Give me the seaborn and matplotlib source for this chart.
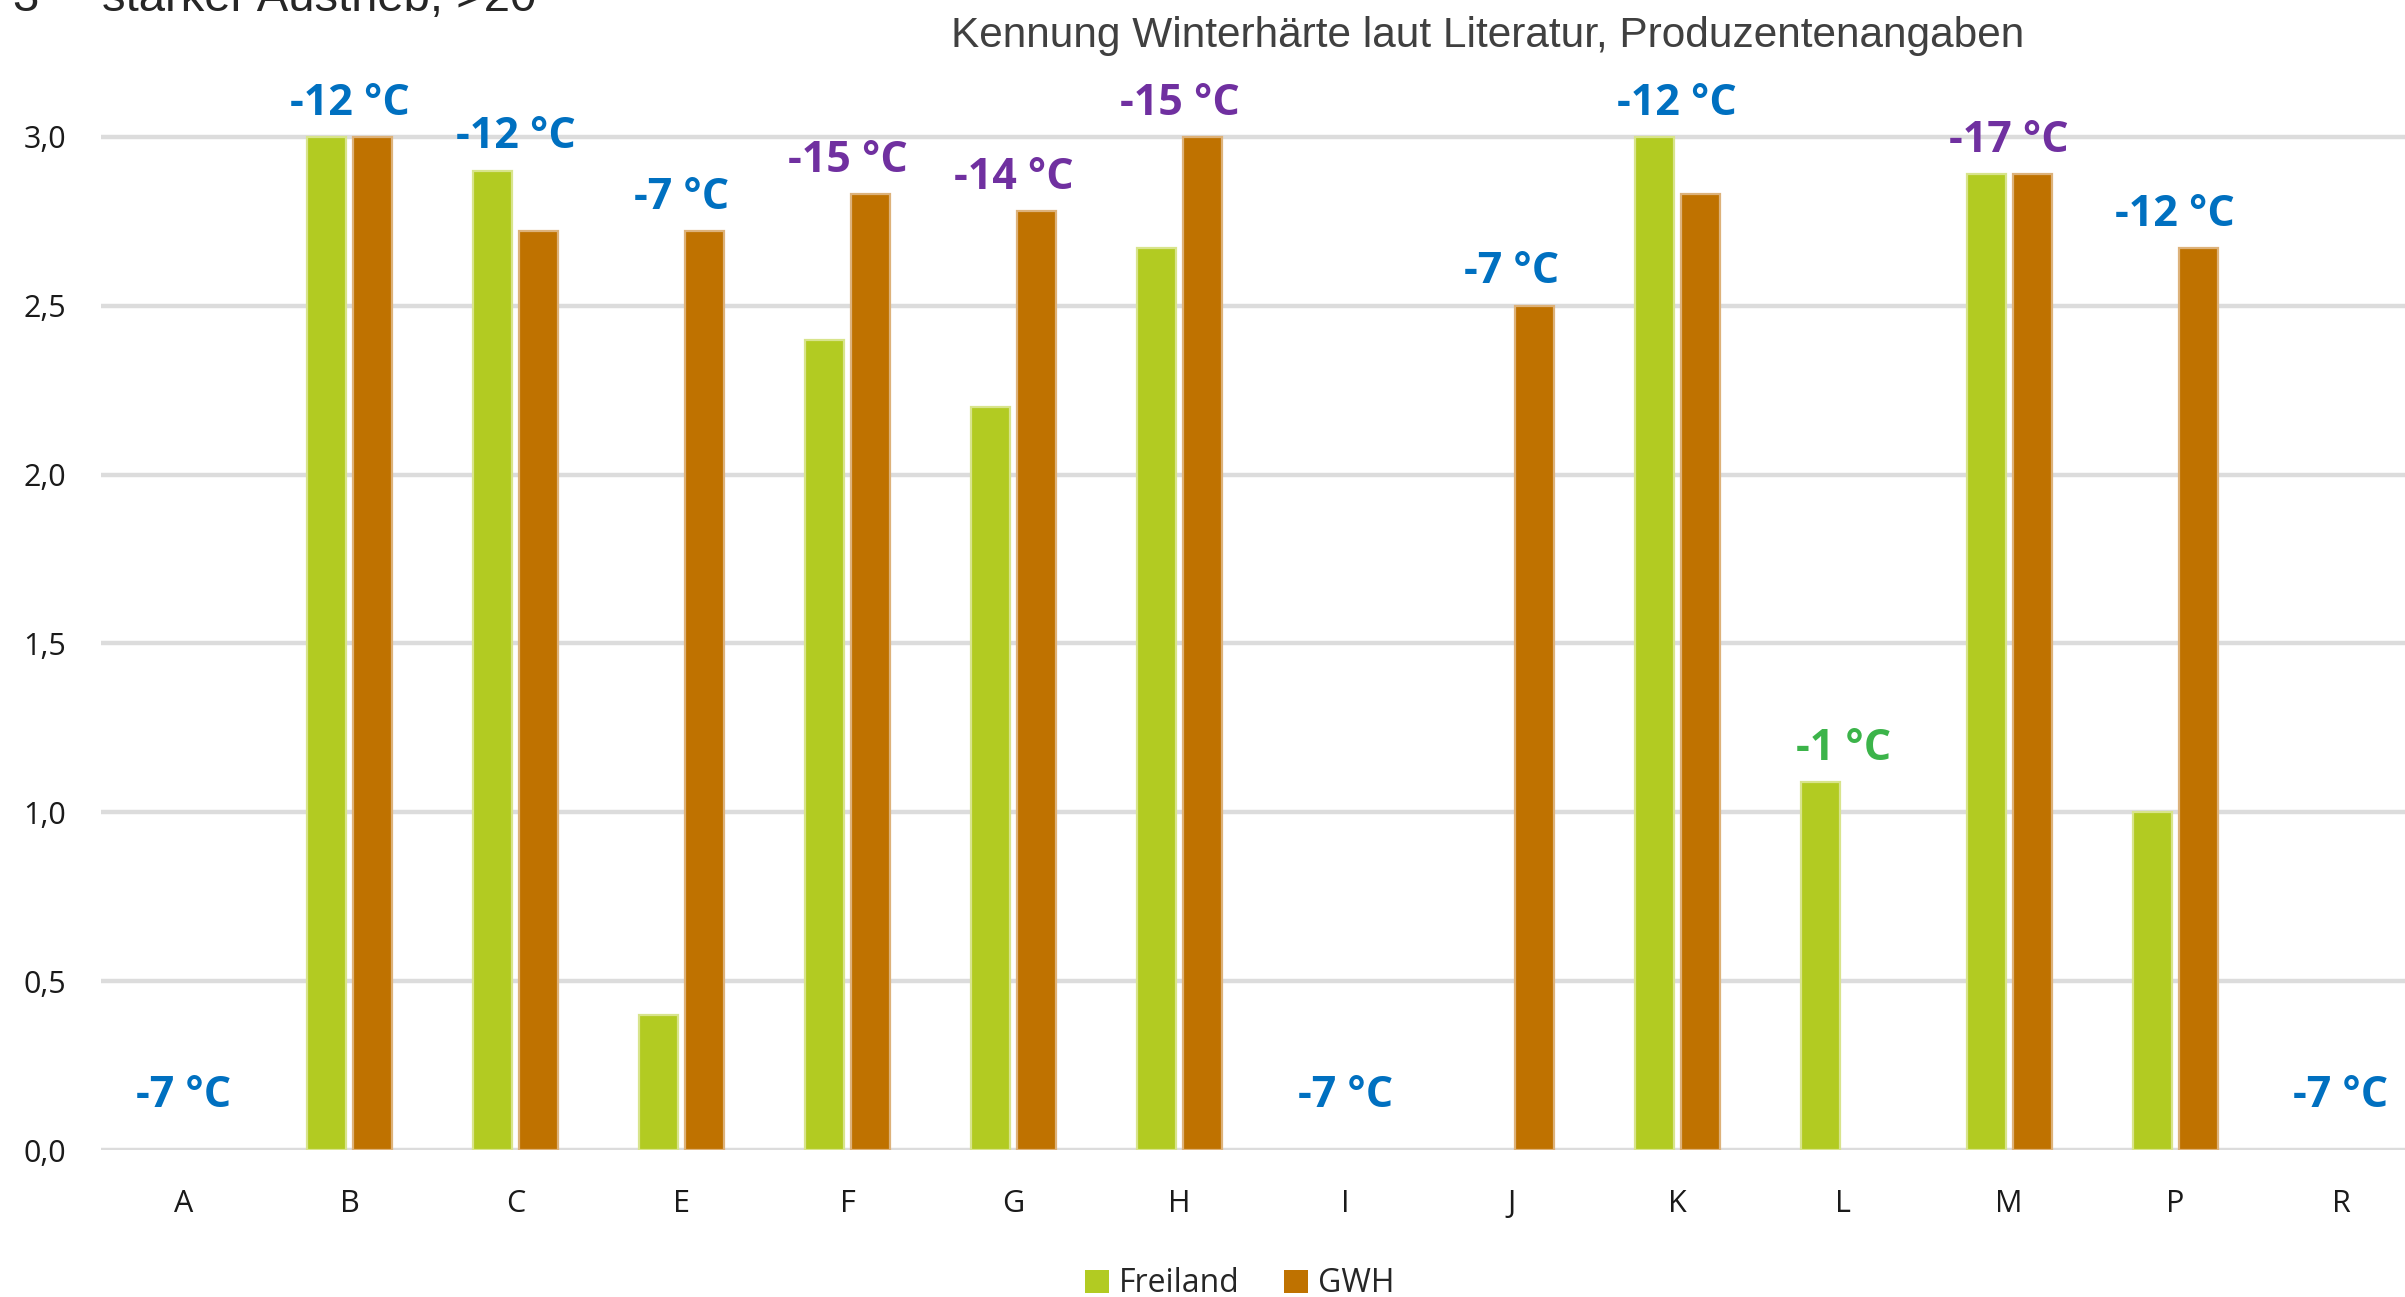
import matplotlib
matplotlib.use("Agg")
import matplotlib.pyplot as plt
import numpy as np
import pandas as pd
import seaborn as sns
from matplotlib.patches import Patch

# data
categories = ["A", "B", "C", "E", "F", "G", "H", "I", "J", "K", "L", "M", "P", "R"]
freiland = [np.nan, 3.0, 2.9, 0.4, 2.4, 2.2, 2.67, np.nan, np.nan, 3.0, 1.09, 2.89, 1.0, np.nan]
gwh = [np.nan, 3.0, 2.72, 2.72, 2.83, 2.78, 3.0, np.nan, 2.5, 2.83, np.nan, 2.89, 2.67, np.nan]
temp_labels = ["-7 °C", "-12 °C", "-12 °C", "-7 °C", "-15 °C", "-14 °C", "-15 °C",
               "-7 °C", "-7 °C", "-12 °C", "-1 °C", "-17 °C", "-12 °C", "-7 °C"]
yticks = [0.0, 0.5, 1.0, 1.5, 2.0, 2.5, 3.0]
ytick_labels = ["0,0", "0,5", "1,0", "1,5", "2,0", "2,5", "3,0"]
series = ["Freiland", "GWH"]

title = "Kennung Winterhärte laut Literatur, Produzentenangaben"
top_note = "starker Austrieb, >20"

GREEN, ORANGE = "#B2CB22", "#BF7200"
EDGE = {"Freiland": "#D8E48C", "GWH": "#DDB27A"}
BLUE, PURPLE, LGREEN = "#0070C0", "#7030A0", "#3CB44A"


def temp_color(lbl):
    t = int(lbl.split()[0])
    if t <= -14:
        return PURPLE
    if t >= -1:
        return LGREEN
    return BLUE


df = pd.DataFrame({
    "Sorte": categories * 2,
    "Wert": freiland + gwh,
    "Ort": ["Freiland"] * len(categories) + ["GWH"] * len(categories),
})

sns.set_theme(style="white")
plt.rcParams["font.family"] = ["Open Sans", "DejaVu Sans"]

W, H = 2405, 1297
fig = plt.figure(figsize=(W / 100, H / 100), dpi=100)
ymax = 3.4
ax = fig.add_axes([101 / W, 147 / H, (2424 - 101) / W, ymax * 337.7 / H])

sns.barplot(data=df, x="Sorte", y="Wert", hue="Ort", order=categories,
            hue_order=series, palette=[GREEN, ORANGE], width=0.554, gap=0.15,
            saturation=1, errorbar=None, legend=False, ax=ax, zorder=3)
for cont, name in zip(ax.containers, series):
    for p in cont:
        p.set_edgecolor(EDGE[name])
        p.set_linewidth(1.6)

ax.set_ylim(0, ymax)
ax.set_xlim(-0.5, len(categories) - 0.5)
ax.set_yticks(yticks)
ax.set_yticklabels(ytick_labels)
ax.set_xlabel("")
ax.set_ylabel("")
ax.tick_params(axis="y", length=0, pad=25, labelsize=22, labelcolor="#1a1a1a")
ax.tick_params(axis="x", length=0, pad=28, labelsize=22, labelcolor="#1a1a1a")
for s in ax.spines.values():
    s.set_visible(False)
for y in yticks:
    ax.axhline(y, color="#DCDCDC", lw=3.2, zorder=1)

# temperature labels above each group
for i, lbl in enumerate(temp_labels):
    vals = [v for v in (freiland[i], gwh[i]) if not np.isnan(v)]
    y = max(vals) + 0.1 if vals else 0.16
    ax.text(i, y, lbl, ha="center", va="center", fontsize=31, fontweight="bold",
            color=temp_color(lbl), clip_on=False, zorder=5)

fig.text(1488 / W, 1 - 47 / H, title, ha="center", va="baseline",
         family="Liberation Sans", fontsize=30.5, color="#404040")
# note at the top left, cut by the upper edge as in the source
fig.text(12 / W, 1 - 11 / H, "3", ha="left", va="baseline",
         family="Liberation Sans", fontsize=34, color="#262626")
fig.text(102 / W, 1 - 11 / H, top_note, ha="left", va="baseline",
         family="Liberation Sans", fontsize=34, color="#262626")

handles = [Patch(facecolor=GREEN, edgecolor="none"), Patch(facecolor=ORANGE, edgecolor="none")]
fig.legend(handles, series, loc="center", bbox_to_anchor=(1240 / W, 13 / H), ncol=2,
           frameon=False, fontsize=23, handlelength=0.75, handleheight=0.75,
           handletextpad=0.3, columnspacing=1.4, labelcolor="#262626")

fig.savefig("out.png", dpi=100)
